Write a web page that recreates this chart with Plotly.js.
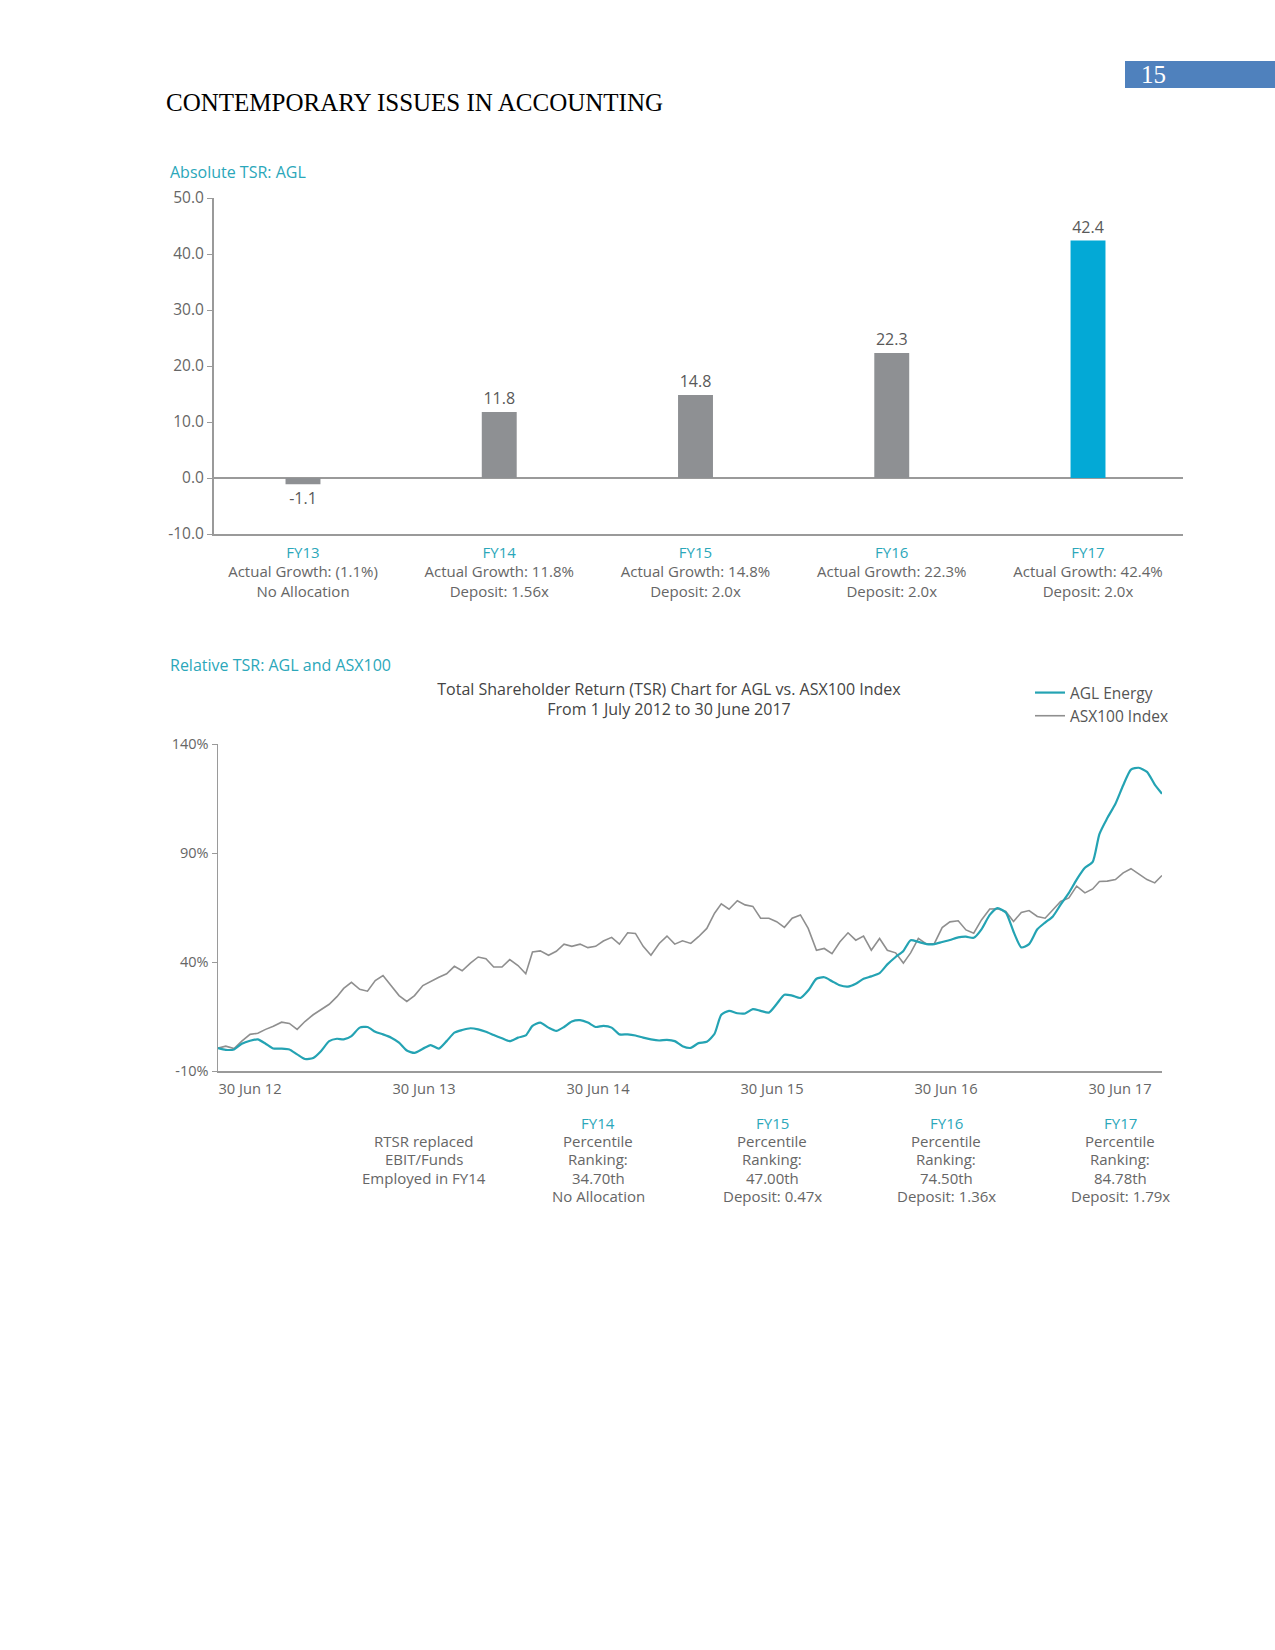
<!DOCTYPE html>
<html>
<head>
<meta charset="utf-8">
<script src="https://cdn.plot.ly/plotly-3.0.1.min.js"></script>
<style>
  html, body { margin: 0; padding: 0; background: #ffffff; }
  #chart { width: 1275px; height: 1650px; }
</style>
</head>
<body>
<div id="chart"></div>
<script>
// ---------- Absolute TSR (bar chart) ----------
const barCategories = ['FY13', 'FY14', 'FY15', 'FY16', 'FY17'];
const barValues = [-1.1, 11.8, 14.8, 22.3, 42.4];
const barGrowthNotes = ['Actual Growth: (1.1%)', 'Actual Growth: 11.8%', 'Actual Growth: 14.8%', 'Actual Growth: 22.3%', 'Actual Growth: 42.4%'];
const barDepositNotes = ['No Allocation', 'Deposit: 1.56x', 'Deposit: 2.0x', 'Deposit: 2.0x', 'Deposit: 2.0x'];
const barYTicks = [-10, 0, 10, 20, 30, 40, 50];
const barYTickLabels = ['-10.0', '0.0', '10.0', '20.0', '30.0', '40.0', '50.0'];

// ---------- Relative TSR (line chart), semi-monthly readings ----------
const tsrDates = [
  '2012-07-01','2012-07-16','2012-08-01','2012-08-16','2012-09-01','2012-09-16','2012-10-01','2012-10-16','2012-11-01','2012-11-16','2012-12-01','2012-12-16',
  '2013-01-01','2013-01-16','2013-02-01','2013-02-16','2013-03-01','2013-03-16','2013-04-01','2013-04-16','2013-05-01','2013-05-16','2013-06-01','2013-06-16',
  '2013-07-01','2013-07-16','2013-08-01','2013-08-16','2013-09-01','2013-09-16','2013-10-01','2013-10-16','2013-11-01','2013-11-16','2013-12-01','2013-12-16',
  '2014-01-01','2014-01-16','2014-02-01','2014-02-16','2014-03-01','2014-03-16','2014-04-01','2014-04-16','2014-05-01','2014-05-16','2014-06-01','2014-06-16',
  '2014-07-01','2014-07-16','2014-08-01','2014-08-16','2014-09-01','2014-09-16','2014-10-01','2014-10-16','2014-11-01','2014-11-16','2014-12-01','2014-12-16',
  '2015-01-01','2015-01-16','2015-02-01','2015-02-16','2015-03-01','2015-03-16','2015-04-01','2015-04-16','2015-05-01','2015-05-16','2015-06-01','2015-06-16',
  '2015-07-01','2015-07-16','2015-08-01','2015-08-16','2015-09-01','2015-09-16','2015-10-01','2015-10-16','2015-11-01','2015-11-16','2015-12-01','2015-12-16',
  '2016-01-01','2016-01-16','2016-02-01','2016-02-16','2016-03-01','2016-03-16','2016-04-01','2016-04-16','2016-05-01','2016-05-16','2016-06-01','2016-06-16',
  '2016-07-01','2016-07-16','2016-08-01','2016-08-16','2016-09-01','2016-09-16','2016-10-01','2016-10-16','2016-11-01','2016-11-16','2016-12-01','2016-12-16',
  '2017-01-01','2017-01-16','2017-02-01','2017-02-16','2017-03-01','2017-03-16','2017-04-01','2017-04-16','2017-05-01','2017-05-16','2017-06-01','2017-06-16',
  '2017-06-30'
];
const aglTSR = [
  0.5, -0.3, -0.1, 2.5, 3.9, 4.5, 2.5, 0.3, 0.3, -0.1, -2.4, -4.5,
  -4.0, -0.9, 3.7, 4.8, 4.5, 6.0, 9.9, 10.2, 8.0, 6.8, 5.3, 3.0,
  -0.6, -1.7, 0.2, 1.9, 0.3, 3.7, 7.6, 8.8, 9.6, 9.1, 8.0, 6.5,
  5.0, 3.7, 5.3, 6.3, 10.7, 12.2, 9.9, 8.4, 10.2, 12.7, 13.3, 12.2,
  10.2, 10.7, 9.9, 6.8, 6.8, 6.3, 5.3, 4.5, 4.0, 4.3, 3.7, 1.4,
  0.6, 2.8, 3.4, 7.1, 15.8, 17.6, 16.5, 16.4, 18.4, 17.6, 16.8, 20.7,
  25.0, 24.6, 23.5, 26.9, 32.3, 33.0, 31.2, 29.3, 28.7, 30.0, 32.3, 33.4,
  34.9, 38.9, 42.3, 45.1, 50.0, 49.2, 48.2, 48.2, 49.2, 50.1, 51.3, 51.6,
  51.1, 55.0, 61.6, 64.7, 62.7, 53.9, 46.7, 48.2, 55.0, 58.1, 60.9, 66.3,
  71.7, 77.8, 83.2, 85.9, 98.7, 105.9, 112.6, 121.1, 128.3, 129.1, 127.2, 121.4,
  117.2
];
const asx100TSR = [
  0.5, 1.4, 0.3, 3.7, 6.8, 7.3, 9.1, 10.5, 12.4, 11.8, 9.1, 12.7,
  15.8, 18.1, 20.6, 24.1, 27.9, 30.7, 27.5, 26.6, 31.5, 33.8, 29.2, 24.6,
  21.9, 24.6, 29.2, 31.2, 33.0, 34.6, 38.0, 36.0, 39.5, 42.3, 41.5, 37.7,
  37.7, 41.1, 38.4, 34.6, 44.6, 45.1, 43.1, 44.9, 48.2, 47.2, 48.2, 46.6,
  47.2, 49.6, 51.3, 48.2, 53.4, 53.1, 47.2, 43.1, 48.5, 51.9, 48.2, 49.7,
  48.5, 51.6, 55.4, 62.4, 66.7, 64.2, 68.1, 66.2, 65.5, 60.1, 60.1, 58.5,
  55.9, 60.1, 61.6, 55.4, 45.4, 46.2, 43.8, 49.2, 53.4, 50.0, 51.9, 45.4,
  50.8, 45.4, 44.2, 39.5, 44.2, 50.8, 48.2, 48.5, 55.8, 58.4, 58.9, 54.7,
  53.2, 59.3, 64.3, 64.4, 63.2, 58.6, 62.7, 63.6, 60.9, 60.1, 64.0, 67.8,
  69.4, 74.8, 71.7, 73.5, 76.9, 77.1, 77.8, 80.9, 82.8, 80.2, 77.8, 76.3,
  79.7
];
const tsrYTicks = [-10, 40, 90, 140];
const tsrYTickLabels = ['-10%', '40%', '90%', '140%'];
const dateTickLabels = ['30 Jun 12', '30 Jun 13', '30 Jun 14', '30 Jun 15', '30 Jun 16', '30 Jun 17'];
const rankingHeads = ['', 'FY14', 'FY15', 'FY16', 'FY17'];
const rankingBodies = [
  ['RTSR replaced', 'EBIT/Funds', 'Employed in FY14'],
  ['Percentile', 'Ranking:', '34.70th', 'No Allocation'],
  ['Percentile', 'Ranking:', '47.00th', 'Deposit: 0.47x'],
  ['Percentile', 'Ranking:', '74.50th', 'Deposit: 1.36x'],
  ['Percentile', 'Ranking:', '84.78th', 'Deposit: 1.79x']
];
const rankingSlots = [1, 2, 3, 4, 5];

// ---------- styles ----------
const W = 1275, H = 1650;
const px = v => v / W;          // page pixel -> paper x
const py = v => 1 - v / H;      // page pixel -> paper y
const TEAL_TEXT = '#2ba7ba';
const AXIS = '#9a9a9a';
const TICKTXT = '#666666';
const FONT = 'Open Sans, Segoe UI, sans-serif';
const SERIF = 'Liberation Serif, Times New Roman, serif';
const barColors = ['#8e9093', '#8e9093', '#8e9093', '#8e9093', '#03a9d6'];

const barTickText = barCategories.map((c, i) =>
  '<span style="color:' + TEAL_TEXT + '">' + c + '</span><br>' + barGrowthNotes[i] + '<br>' + barDepositNotes[i]);

const traces = [
  {
    type: 'bar', x: barCategories, y: barValues,
    marker: { color: barColors },
    width: 0.178,
    text: barValues.map(v => v.toFixed(1)),
    textposition: 'outside', constraintext: 'none', cliponaxis: false,
    textfont: { family: FONT, size: 16, color: '#595959' },
    showlegend: false, hoverinfo: 'skip',
    xaxis: 'x', yaxis: 'y'
  },
  {
    type: 'scatter', mode: 'lines', name: 'ASX100 Index',
    x: tsrDates, y: asx100TSR,
    line: { color: '#8f8f8f', width: 1.6 },
    xaxis: 'x2', yaxis: 'y2', hoverinfo: 'skip'
  },
  {
    type: 'scatter', mode: 'lines', name: 'AGL Energy',
    x: tsrDates, y: aglTSR,
    line: { color: '#24a3b3', width: 2.2, shape: 'spline', smoothing: 0.6 },
    xaxis: 'x2', yaxis: 'y2', hoverinfo: 'skip'
  }
];

const annotations = [
  { text: 'CONTEMPORARY ISSUES IN ACCOUNTING', xref: 'paper', yref: 'paper', x: px(164), y: py(103),
    xanchor: 'left', yanchor: 'middle', showarrow: false,
    font: { family: SERIF, size: 25, color: '#000000' } },
  { text: '15', xref: 'paper', yref: 'paper', x: px(1153), y: py(75),
    xanchor: 'center', yanchor: 'middle', showarrow: false,
    font: { family: SERIF, size: 25, color: '#ffffff' } },
  { text: 'Absolute TSR: AGL', xref: 'paper', yref: 'paper', x: px(168), y: py(172),
    xanchor: 'left', yanchor: 'middle', showarrow: false,
    font: { family: FONT, size: 16, color: TEAL_TEXT } },
  { text: 'Relative TSR: AGL and ASX100', xref: 'paper', yref: 'paper', x: px(168), y: py(665),
    xanchor: 'left', yanchor: 'middle', showarrow: false,
    font: { family: FONT, size: 16, color: TEAL_TEXT } }
];
const RANK_TOP = 1122.5, RANK_STEP = 18.4;
rankingSlots.forEach((slot, i) => {
  const head = rankingHeads[i];
  const lines = head ? [head].concat(rankingBodies[i]) : [''].concat(rankingBodies[i]);
  lines.forEach((ln, k) => {
    if (!ln) return;
    annotations.push({
      text: ln, xref: 'x3', yref: 'paper', x: slot, y: py(RANK_TOP + k * RANK_STEP),
      xanchor: 'center', yanchor: 'middle', showarrow: false,
      font: { family: FONT, size: 15, color: (k === 0 && head) ? TEAL_TEXT : TICKTXT }
    });
  });
});

const layout = {
  width: W, height: H,
  margin: { l: 0, r: 0, t: 0, b: 0 },
  paper_bgcolor: '#ffffff', plot_bgcolor: '#ffffff',
  font: { family: FONT, size: 14, color: TICKTXT },
  title: {
    text: 'Total Shareholder Return (TSR) Chart for AGL vs. ASX100 Index<br>From 1 July 2012 to 30 June 2017',
    x: px(669), y: py(694.5), xref: 'paper', yref: 'paper', xanchor: 'center', yanchor: 'middle',
    font: { family: FONT, size: 16, color: '#444444' }
  },
  showlegend: true,
  legend: {
    x: px(1030), y: py(676), xanchor: 'left', yanchor: 'top',
    traceorder: 'reversed', bgcolor: 'rgba(0,0,0,0)',
    font: { family: FONT, size: 15.5, color: '#555555' }
  },
  xaxis: {
    domain: [px(213.5), px(1183)], anchor: 'y', type: 'category', range: [-0.456, 4.484],
    showline: true, linecolor: AXIS, linewidth: 1.5, ticks: '', showgrid: false, zeroline: false,
    tickmode: 'array', tickvals: barCategories, ticktext: barTickText,
    tickfont: { family: FONT, size: 15, color: TICKTXT }, ticklabelstandoff: 4
  },
  yaxis: {
    domain: [py(534), py(198)], anchor: 'x', range: [-10, 50],
    tickmode: 'array', tickvals: barYTicks, ticktext: barYTickLabels,
    showline: true, linecolor: AXIS, linewidth: 1.5,
    ticks: 'outside', ticklen: 5, tickcolor: AXIS, showgrid: false,
    zeroline: true, zerolinecolor: AXIS, zerolinewidth: 1.5,
    tickfont: { family: FONT, size: 15.5, color: TICKTXT }
  },
  xaxis2: {
    domain: [px(218), px(1162)], anchor: 'y2', type: 'date',
    range: ['2012-07-01', '2017-06-30'],
    showline: true, linecolor: AXIS, linewidth: 1.5, ticks: '', showticklabels: false,
    showgrid: false, zeroline: false
  },
  yaxis2: {
    domain: [py(1071), py(744)], anchor: 'x2', range: [-10, 140],
    tickmode: 'array', tickvals: tsrYTicks, ticktext: tsrYTickLabels,
    showline: true, linecolor: AXIS, linewidth: 1.5,
    ticks: 'outside', ticklen: 5, tickcolor: AXIS, showgrid: false, zeroline: false,
    tickfont: { family: FONT, size: 14.5, color: TICKTXT }
  },
  xaxis3: {
    overlaying: 'x2', anchor: 'y2', side: 'bottom',
    range: [-0.184, 5.241], tickmode: 'array', tickvals: [0, 1, 2, 3, 4, 5], ticktext: dateTickLabels,
    showline: false, ticks: '', showgrid: false, zeroline: false,
    tickfont: { family: FONT, size: 14.7, color: TICKTXT }, ticklabelstandoff: 7
  },
  shapes: [
    { type: 'rect', xref: 'paper', yref: 'paper', x0: px(1125), x1: 1, y0: py(88), y1: py(61),
      fillcolor: '#4f81bd', line: { width: 0 }, layer: 'below' }
  ],
  annotations: annotations
};

Plotly.newPlot('chart', traces, layout, { displayModeBar: false, staticPlot: true });
</script>
</body>
</html>
